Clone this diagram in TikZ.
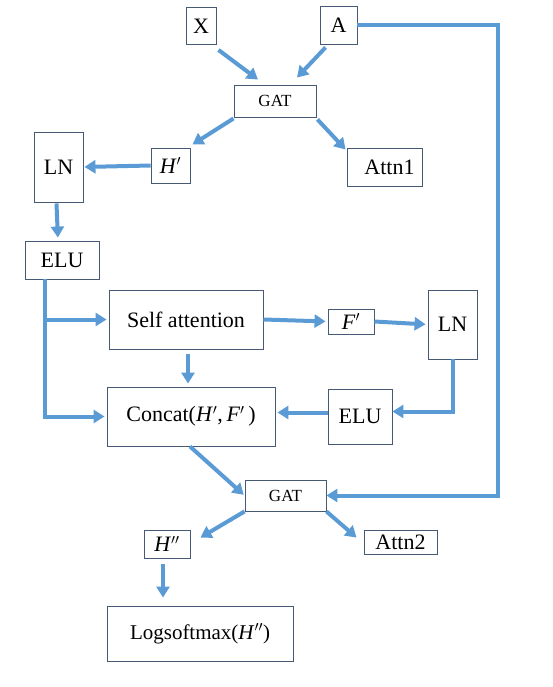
\documentclass[tikz,border=0pt]{standalone}
\usepackage{fontspec}
\setmainfont{Liberation Serif}
\usepackage{tikz}
\usetikzlibrary{arrows.meta}
\usetikzlibrary{positioning}

\definecolor{arrowblue}{RGB}{91,155,213}
\definecolor{boxline}{RGB}{70,90,115}

\newcommand{\itp}[1]{\textit{#1}$'$}
\newcommand{\itpp}[1]{\textit{#1}$''$}

\begin{document}
\begin{tikzpicture}[x=1pt,y=-1pt,
		box/.style={draw=boxline, line width=0.9pt, inner sep=0pt, font=\fontsize{22}{26}\selectfont},
		gatbox/.style={box, minimum width=82pt, minimum height=32pt, font=\fontsize{17}{20}\selectfont},
		arr/.style={draw=arrowblue, line width=4pt, -{Triangle[length=11pt,width=13pt]}}]
		\useasboundingbox (0,0) rectangle (552,687);
		
		\node[box, minimum width=30pt, minimum height=37pt] (X) at (201,26) {X};
		\node[box, minimum width=37pt, minimum height=38pt] (A) at (338.5,25) {A};
		\node[gatbox] (GATa) at (275,101) {GAT};
		\node[box, minimum width=39pt, minimum height=35pt] (Hp) at (170.5,165.5) {\itp{H}};
		\node[box, minimum width=75pt, minimum height=38pt] (Attna) at (384.5,167) {\hspace{10pt}Attn1};
		\node[box, minimum width=49pt, minimum height=70pt] (LNa) at (58.5,167) {LN};
		\node[box, minimum width=74pt, minimum height=38pt] (ELUa) at (62,260) {ELU\hspace{16pt}};
		\node[box, minimum width=154pt, minimum height=59pt] (SA) at (186,319.5) {Self attention};
		\node[box, minimum width=46pt, minimum height=25pt] (Fp) at (351,321.5) {\itp{F}};
		\node[box, minimum width=49pt, minimum height=69pt] (LNb) at (452.5,324.5) {LN};
		\node[box, minimum width=64pt, minimum height=55pt] (ELUb) at (360,416.5) {ELU};
		\node[box, minimum width=168pt, minimum height=59pt] (Concat) at (191,416.5) {Concat(\itp{H},\,\itp{F}\,)};
		\node[gatbox, minimum width=81pt, minimum height=31pt] (GATb) at (285.5,495.5) {GAT};
		\node[box, minimum width=46pt, minimum height=28pt] (Hpp) at (167,544) {\itpp{H}};
		\node[box, minimum width=73pt, minimum height=24pt] (Attnb) at (400.5,542) {Attn2\hspace{10pt}};
		\node[box, minimum width=186pt, minimum height=55pt, font=\fontsize{21}{25}\selectfont] (Log) at (200,633.5) {Logsoftmax(\itpp{H})\hspace{9pt}};
		
		\coordinate (rt) at (498,0);
		\coordinate (e1) at (45,279);
		\coordinate (hb) at ([shift={(-4,0)}]Hpp.south);
		
		\draw[arr] ([shift={(2,5)}]X.south east) -- ([shift={(-17,-5)}]GATa.north);
		\draw[arr] ([shift={(6,3)}]A.south west) -- ([shift={(22,-7)}]GATa.north);
		\draw[arr] (A.east) -- (A.east -| rt) |- (GATb.east);
		\draw[arr] ([shift={(0,1)}]GATa.south west) -- ([shift={(2,-3)}]Hp.north east);
		\draw[arr] ([shift={(1,2)}]GATa.south east) -- ([shift={(-1,2)}]Attna.north west);
		\draw[arr, shorten >=1pt] (Hp.west) -- (LNa.east);
		\draw[arr, shorten >=3pt] ([shift={(-2,1)}]LNa.south) -- ([shift={(-4,0)}]ELUa.north);
		\draw[arr, shorten >=2pt] (e1) |- (Concat.west);
		\draw[arr, shorten >=2pt] (e1 |- SA.west) -- (SA.west);
		\draw[arr, shorten >=2pt] (SA.east) -- (Fp.west);
		\draw[arr, shorten >=2pt] (Fp.east) -- (LNb.west);
		\draw[arr] (LNb.south) |- ([shift={(0,-5)}]ELUb.east);
		\draw[arr, shorten >=2pt] ([shift={(0,-4)}]ELUb.west) -- ([shift={(0,-4)}]Concat.east);
		\draw[arr, shorten <=5pt, shorten >=3pt] ([shift={(2,0)}]SA.south) -- ([shift={(2,0)}]SA.south |- Concat.north);
		\draw[arr, shorten >=1pt] ([shift={(-1,0)}]Concat.south) -- (GATb.west);
		\draw[arr] (GATb.south west) -- ([shift={(10,8)}]Hpp.north east);
		\draw[arr] (GATb.south east) -- ([shift={(-7,8)}]Attnb.north west);
		\draw[arr, shorten <=6pt, shorten >=8pt] (hb) -- (hb |- Log.north);
		\end{tikzpicture}
\end{document}
